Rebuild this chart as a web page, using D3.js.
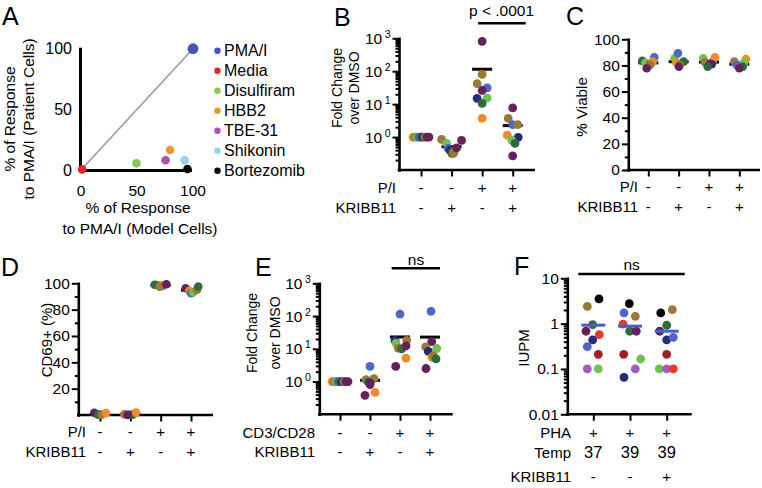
<!DOCTYPE html>
<html><head><meta charset="utf-8">
<script src="https://cdn.jsdelivr.net/npm/d3@7/dist/d3.min.js"></script>
<style>
body{margin:0;background:#fff}
svg{display:block}
text{font-family:"Liberation Sans",Arial,Helvetica,sans-serif;fill:#000}
</style>
</head><body>
<svg id="chart" width="762" height="488"></svg>
<script>
// ================= DATA =================
// Panel A
const aSeries  = ["PMA/I","Media","Disulfiram","HBB2","TBE-31","Shikonin","Bortezomib"];
const aModel   = [100, 1, 49.5, 79.5, 75.5, 92.5, 95];
const aPatient = [100, 0.5, 5.5, 16.5, 8, 8, 0.8];
const aTicks   = [0, 50, 100];

// row labels under panels
const rowPI     = ["-","-","+","+"];
const rowKRIBB  = ["-","+","-","+"];
const rowCD3    = ["-","-","+","+"];
const rowPHA    = ["+","+","+"];
const rowTemp   = ["37","39","39"];
const rowKRIBBF = ["-","-","+"];

// Panel B (fold change, log)
const bValues = [
  [1,1,1,1,1,1,1,1,1],
  [0.85,0.64,0.45,0.40,0.32,0.36,0.32,0.47,0.79],
  [810,80,42,31,26,15,15.5,10.5,3.7],
  [7.7,3.7,2.4,2.4,1.15,0.98,0.81,0.64,0.27]
];
const bDonors = [
  ["orange","brown","lgreen","blue","dgreen","navy","brown","purple","purple"],
  ["brown","lgreen","blue","navy","dgreen","orange","brown","purple","purple"],
  ["purple","brown","brown","blue","purple","navy","lgreen","dgreen","orange"],
  ["purple","brown","blue","brown","orange","navy","lgreen","dgreen","purple"]
];
const bTicks = [1, 10, 100, 1000];

// Panel C (% viable)
const cValues = [
  [83.6,82.0,81.0,86.2,82.9,80.3,77.8],
  [85.5,81.0,89.3,82.9,82.1,80.3,79.0],
  [85.5,83.0,86.2,82.4,80.9,81.0,79.0],
  [82.9,80.0,84.9,82.1,80.3,79.0,77.8]
];
const cDonors = [
  ["dgreen","lgreen","navy","blue","orange","brown","purple"],
  ["lgreen","navy","blue","dgreen","orange","brown","purple"],
  ["lgreen","blue","orange","brown","navy","purple","dgreen"],
  ["brown","navy","orange","lgreen","blue","dgreen","purple"]
];
const cTicks = [0,20,40,60,80,100];

// Panel D (CD69+ %)
const dValues = [
  [0.6,0.4,1.7,0.3,0.2,1.4],
  [0.5,0.3,0.2,0.2,1.8,0.1],
  [98.6,98.0,98.5,98.9,97.5,99.3],
  [96.2,94.4,92.5,93.2,95.0,97.5]
];
const dDonors = [
  ["lgreen","blue","purple","dgreen","brown","orange"],
  ["brown","lgreen","blue","dgreen","orange","purple"],
  ["lgreen","blue","orange","dgreen","brown","purple"],
  ["purple","orange","blue","lgreen","brown","dgreen"]
];
const dTicks = [20,40,60,80,100];

// Panel E (fold change, log)
const eValues = [
  [1,1,1,1,1,1,1,1,1],
  [2.9,1.15,1.23,1.0,0.98,0.9,0.81,0.38,0.47],
  [115,18,18,15,10.5,10,12.3,5.2,2.9],
  [139,16.6,11.5,8.3,10.2,5.5,6.1,4.9,2.5]
];
const eDonors = [
  ["orange","brown","lgreen","blue","dgreen","navy","brown","purple","purple"],
  ["blue","brown","brown","lgreen","dgreen","navy","purple","purple","orange"],
  ["blue","navy","brown","lgreen","brown","dgreen","purple","orange","purple"],
  ["blue","purple","brown","navy","lgreen","orange","brown","dgreen","purple"]
];
const eTicks = [1, 10, 100, 1000];

// Panel F (IUPM, log)
const fValues = [
  [2.4,3.5,0.95,0.68,0.57,0.44,0.31,0.21,0.1,0.1],
  [2.76,1.72,1.45,0.98,0.68,0.68,0.21,0.166,0.1,0.065],
  [1.72,2.03,0.92,0.68,0.44,0.5,0.21,0.1,0.1,0.1]
];
const fDonors = [
  ["brown","black","dgreen","purple","red","navy","blue","dred","lav","lgreen"],
  ["black","blue","brown","red","dgreen","purple","dred","lgreen","lav","navy"],
  ["black","brown","dgreen","purple","navy","blue","dred","lgreen","lav","red"]
];
const fTicks = [0.01, 0.1, 1, 10];
const fTickLabels = ["0.01","0.1","1","10"];

// ================= STYLE / LAYOUT =================
const palette = {
  purple:"#66205c", brown:"#9c7735", blue:"#4b68c4", navy:"#252c7e",
  lgreen:"#70c151", dgreen:"#30693a", orange:"#f08a2d",
  black:"#000000", red:"#e63a2e", dred:"#a21f27", lav:"#a15db9"
};
const aColors = ["#4057b5","#e3262b","#84c553","#f2932f","#b050b0","#93d3ea","#000000"];

// horizontal spread of dots within a group (px), layout only
const bSpread = [
  [-8,-6,-4,-2,0,2,4,6,8],
  [-10,-5,-3.4,-1.7,0.3,2.7,2,5,10],
  [0,0,-5,5,0,-5,5,0,0],
  [0,-4.5,0,5,-5.5,5.5,-1,2.3,0]
];
const cSpread = [
  [-6,-3,2,6,4.4,1.7,-1.6],
  [-4,0,-0.7,5,-2.3,1,0.3],
  [-5.7,4,6,-4,2.7,1,-1.3],
  [-5,-1,6.7,4.7,-2.6,3.4,0]
];
const dSpread = [
  [-3,1,-5.7,-1.7,1.7,6],
  [-6,3,-1,1.7,5.7,-2.7],
  [-3,2,0,-6,-1,5.7],
  [-5.3,-1.7,0,2.3,5.7,7.3]
];
const eSpread = [
  [-8,-6,-4,-2,0,2,4,6,8],
  [0,-4,4,-2,-1.7,0,0,-5,5],
  [0,-5,6.7,-4,-1.7,1.7,6,6,-4.3],
  [1,1.7,-4.3,-1.7,6.7,2,3.3,6,-4]
];
const fSpread = [
  [-6,5.7,-0.6,-7.3,6,-0.6,-6,5,-6,5],
  [-0.7,-6,5.3,-7,-0.3,6.3,-6.3,10.7,5.3,-6],
  [-6,5.6,0,-7,0,6.6,0,-7.4,0,6.6]
];

const svg = d3.select("#chart");
const TICK_FS = 15.5;

function styleAxis(g, w) {
  g.attr("font-family", null).attr("font-size", null);
  g.selectAll(".domain").attr("stroke","#000").attr("stroke-width", w).attr("stroke-linecap","square");
  g.selectAll(".tick line").attr("stroke","#000").attr("stroke-width", 2);
  g.selectAll(".tick text").style("font-size", TICK_FS + "px").attr("fill","#000");
}

function logMinors(lo, hi) {
  const out = [];
  for (let e = Math.round(Math.log10(lo)); e < Math.round(Math.log10(hi)); e++)
    for (let k = 2; k <= 9; k++) out.push(k * Math.pow(10, e));
  return out;
}

function letter(t, x, y) {
  svg.append("text").attr("x", x).attr("y", y).style("font-size","25px").text(t);
}

function rotLabel(lines, xs, cy, fs) {
  lines.forEach((s, i) => {
    svg.append("text").attr("transform", `translate(${xs[i]},${cy}) rotate(-90)`)
      .attr("text-anchor","middle").style("font-size", fs + "px").text(s);
  });
}

function dotPanel(o) {
  const g = svg.append("g");
  const y = o.y, x = o.x;
  const baseY = y.range()[0];
  if (o.minors) {
    const gm = g.append("g").attr("transform", `translate(${o.axisX},0)`)
      .call(d3.axisLeft(y).tickValues(o.minors).tickSize(o.minorLen || 3.5).tickFormat(""));
    gm.select(".domain").remove();
    styleAxis(gm, 2.6);
  }
  const ga = g.append("g").attr("transform", `translate(${o.axisX},0)`)
    .call(d3.axisLeft(y).tickValues(o.majors).tickSize(6.5).tickSizeOuter(0).tickPadding(2).tickFormat(o.fmt));
  styleAxis(ga, 2.6);
  if (o.sup) {
    ga.selectAll(".tick text").each(function(d) {
      const t = d3.select(this);
      t.text(null);
      t.append("tspan").text("10");
      t.append("tspan").attr("dx", 2.5).attr("dy", -6).style("font-size","10.5px")
        .text(Math.round(Math.log10(d)));
    });
  }
  g.append("line").attr("x1", o.axisX - 1.3).attr("x2", o.xEnd)
    .attr("y1", baseY).attr("y2", baseY).attr("stroke","#000").attr("stroke-width", 2.6);
  const gx = g.append("g").attr("transform", `translate(0,${baseY})`)
    .call(d3.axisBottom(x).tickSize(6.5).tickSizeOuter(0).tickFormat(""));
  gx.select(".domain").remove();
  styleAxis(gx, 2.6);

  const drawMeans = () => {
    o.values.forEach((vals, i) => {
      const m = d3.mean(vals);
      g.append("line").attr("x1", x(i) - o.meanW / 2).attr("x2", x(i) + o.meanW / 2)
        .attr("y1", y(m)).attr("y2", y(m))
        .attr("stroke", o.meanColor || "#000").attr("stroke-width", 3);
    });
  };
  if (!o.meanOnTop) drawMeans();
  o.values.forEach((vals, i) => {
    g.selectAll(null).data(vals).join("circle")
      .attr("cx", (d, j) => x(i) + o.spread[i][j])
      .attr("cy", d => y(d))
      .attr("r", o.r || 4.4)
      .attr("fill", (d, j) => palette[o.donors[i][j]]);
  });
  if (o.meanOnTop) drawMeans();

  o.rows.forEach(row => {
    svg.append("text").attr("x", o.labelX).attr("y", row.base).attr("text-anchor","end")
      .style("font-size", "15px").text(row.label);
    row.vals.forEach((s, i) => {
      svg.append("text").attr("x", x(i)).attr("y", row.base).attr("text-anchor","middle")
        .style("font-size", (row.fs || 15) + "px").text(s);
    });
  });
  return g;
}

// ================= PANEL A =================
{
  const x = d3.scaleLinear().domain([0,100]).range([81, 193]);
  const y = d3.scaleLinear().domain([0,100]).range([170, 48.7]);
  svg.append("line").attr("x1", x(0)).attr("y1", y(0)).attr("x2", x(100)).attr("y2", y(100))
    .attr("stroke","#9a9a9a").attr("stroke-width",1.6);
  const gy = svg.append("g").attr("transform","translate(80,0)")
    .call(d3.axisLeft(y).tickValues(aTicks).tickSize(0).tickPadding(8));
  styleAxis(gy, 3);
  gy.selectAll(".tick text").style("font-size","16px");
  const gxA = svg.append("g").attr("transform","translate(0,170)")
    .call(d3.axisBottom(x.copy().range([80, 190]).domain([0, 100 * 110 / 112])).tickValues([]).tickSize(0));
  styleAxis(gxA, 3);
  svg.append("g").selectAll("text").data(aTicks).join("text")
    .attr("x", d => x(d)).attr("y", 195.5).attr("text-anchor","middle")
    .style("font-size","15.5px").text(d => d);
  svg.append("g").selectAll("circle").data(aSeries).join("circle")
    .attr("cx", (d, i) => x(aModel[i])).attr("cy", (d, i) => y(aPatient[i]))
    .attr("r", (d, i) => i === 0 ? 5.4 : 4.3)
    .attr("fill", (d, i) => aColors[i]);
  const lg = svg.append("g");
  aSeries.forEach((s, i) => {
    lg.append("circle").attr("cx", 217.5).attr("cy", 50.7 + i * 20).attr("r", 3.2).attr("fill", aColors[i]);
    lg.append("text").attr("x", 224).attr("y", 50.7 + i * 20 + 5.7).style("font-size","16px").text(s);
  });
  svg.append("text").attr("x", 138).attr("y", 213).attr("text-anchor","middle").style("font-size","15.5px").text("% of Response");
  svg.append("text").attr("x", 140).attr("y", 234).attr("text-anchor","middle").style("font-size","15.5px").text("to PMA/I (Model Cells)");
  rotLabel(["% of Response","to PMA/I (Patient Cells)"], [15, 34], 119, 15.5);
  letter("A", 2, 25);
}

// ================= PANEL B =================
{
  const y = d3.scaleLog().domain([0.1, 1000]).range([170, 38.3]);
  const x = d3.scalePoint().domain(d3.range(4)).range([421, 512.7]);
  dotPanel({y, x, axisX: 399, xEnd: 535, majors: bTicks, minors: logMinors(0.1, 1000), sup: true,
    values: bValues, donors: bDonors, spread: bSpread, meanW: 20,
    labelX: 396, rows: [{label:"P/I", vals: rowPI, base: 193}, {label:"KRIBB11", vals: rowKRIBB, base: 213}]});
  svg.append("line").attr("x1", x(2) - 4).attr("x2", x(3) + 13).attr("y1", 23.3).attr("y2", 23.3)
    .attr("stroke","#000").attr("stroke-width", 2.6);
  svg.append("text").attr("x", 501.5).attr("y", 16).attr("text-anchor","middle").style("font-size","15.5px").text("p < .0001");
  rotLabel(["Fold Change","over DMSO"], [341.5, 359], 88, 14);
  letter("B", 334, 26);
}

// ================= PANEL C =================
{
  const y = d3.scaleLinear().domain([0, 100]).range([170, 39.3]);
  const x = d3.scalePoint().domain(d3.range(4)).range([648.3, 739.3]);
  dotPanel({y, x, axisX: 628.3, xEnd: 760, majors: cTicks, minors: [10,30,50,70,90], fmt: d3.format("d"),
    values: cValues, donors: cDonors, spread: cSpread, meanW: 20, r: 4.3,
    labelX: 638, rows: [{label:"P/I", vals: rowPI, base: 191.7}, {label:"KRIBB11", vals: rowKRIBB, base: 211.7}]});
  rotLabel(["% Viable"], [587], 107, 15.2);
  letter("C", 566, 25);
}

// ================= PANEL D =================
{
  const y = d3.scaleLinear().domain([0, 100]).range([415, 283.3]);
  const x = d3.scalePoint().domain(d3.range(4)).range([100, 191]);
  dotPanel({y, x, axisX: 78.3, xEnd: 213, majors: dTicks, minors: [10,30,50,70,90], fmt: d3.format("d"),
    values: dValues, donors: dDonors, spread: dSpread, meanW: 20, r: 4.3,
    labelX: 86, rows: [{label:"P/I", vals: rowPI, base: 436.7}, {label:"KRIBB11", vals: rowKRIBB, base: 456.7}]});
  rotLabel(["CD69+ (%)"], [52], 340, 15);
  letter("D", 1, 276);
}

// ================= PANEL E =================
{
  const y = d3.scaleLog().domain([0.1, 1000]).range([414.3, 283.3]);
  const x = d3.scalePoint().domain(d3.range(4)).range([340, 430]);
  dotPanel({y, x, axisX: 319.3, xEnd: 452.7, majors: eTicks, minors: logMinors(0.1, 1000), sup: true,
    values: eValues, donors: eDonors, spread: eSpread, meanW: 20,
    labelX: 315, rows: [{label:"CD3/CD28", vals: rowCD3, base: 437.7}, {label:"KRIBB11", vals: rowKRIBB, base: 456.7}]});
  svg.append("line").attr("x1", x(2) - 8.3).attr("x2", x(3) + 10).attr("y1", 268.3).attr("y2", 268.3)
    .attr("stroke","#000").attr("stroke-width", 2.6);
  svg.append("text").attr("x", 416).attr("y", 265).attr("text-anchor","middle").style("font-size","15.5px").text("ns");
  rotLabel(["Fold Change","over DMSO"], [257, 280], 333, 14);
  letter("E", 255, 276);
}

// ================= PANEL F =================
{
  const y = d3.scaleLog().domain([0.01, 10]).range([414.3, 278.3]);
  const x = d3.scalePoint().domain(d3.range(3)).range([593.3, 666.7]);
  dotPanel({y, x, axisX: 567.3, xEnd: 691.7, majors: fTicks, minors: logMinors(0.01, 10),
    fmt: (d) => fTickLabels[fTicks.indexOf(d)],
    values: fValues, donors: fDonors, spread: fSpread, meanW: 24, meanColor: "#4a5fc6", meanOnTop: true,
    labelX: 571, rows: [{label:"PHA", vals: rowPHA, base: 437.7},
                        {label:"Temp", vals: rowTemp, base: 457.5, fs: 16.5},
                        {label:"KRIBB11", vals: rowKRIBBF, base: 481.7}]});
  svg.append("line").attr("x1", x(0) - 15).attr("x2", x(2) + 18).attr("y1", 274).attr("y2", 274)
    .attr("stroke","#000").attr("stroke-width", 2.6);
  svg.append("text").attr("x", 631.7).attr("y", 270).attr("text-anchor","middle").style("font-size","15.5px").text("ns");
  rotLabel(["IUPM"], [528.5], 348, 15);
  letter("F", 514, 275);
}
</script>
</body></html>
